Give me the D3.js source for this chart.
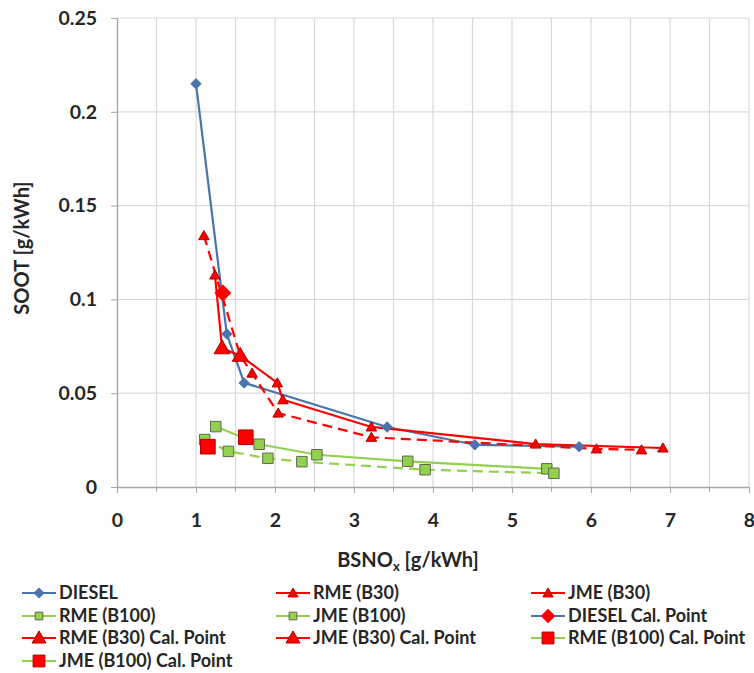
<!DOCTYPE html>
<html>
<head>
<meta charset="utf-8">
<script src="https://cdn.jsdelivr.net/npm/d3@7"></script>
<style>
  html, body { margin: 0; padding: 0; background: #fff; }
  svg { display: block; }
  text { font-family: Lato, "Open Sans", sans-serif; font-weight: bold; fill: #262626; }
</style>
</head>
<body>
<svg id="chart" width="754" height="673"></svg>
<script>
// ---- data (BSNOx [g/kWh], SOOT [g/kWh]) ----
const dieselX = [1.00, 1.39, 1.61, 3.42, 4.53, 5.85];
const dieselY = [0.215, 0.0815, 0.0555, 0.032, 0.0225, 0.0215];
const rmeB30X = [1.24, 1.33, 1.56, 2.03, 2.10, 3.22, 5.30, 6.91];
const rmeB30Y = [0.113, 0.074, 0.070, 0.0555, 0.0465, 0.032, 0.0229, 0.0208];
const jmeB30X = [1.10, 1.56, 1.71, 2.04, 3.22, 6.07, 6.64];
const jmeB30Y = [0.134, 0.070, 0.0607, 0.0394, 0.0265, 0.0203, 0.0198];
const rmeB100X = [1.25, 1.80, 2.53, 3.68, 5.44];
const rmeB100Y = [0.0322, 0.0228, 0.0172, 0.0137, 0.0097];
const jmeB100X = [1.11, 1.41, 1.91, 2.34, 3.90, 5.53];
const jmeB100Y = [0.0253, 0.019, 0.0153, 0.0135, 0.0092, 0.0073];
const dieselCalX = [1.34], dieselCalY = [0.1034];
const rmeB30CalX = [1.33], rmeB30CalY = [0.074];
const jmeB30CalX = [1.56], jmeB30CalY = [0.070];
const rmeB100CalX = [1.63], rmeB100CalY = [0.0265];
const jmeB100CalX = [1.15], jmeB100CalY = [0.0215];

const xTicks = [0, 1, 2, 3, 4, 5, 6, 7, 8];
const yTicks = [0, 0.05, 0.1, 0.15, 0.2, 0.25];
const xTitle = "BSNO";
const yTitle = "SOOT [g/kWh]";

const BLUE = "#4A74AC", RED = "#FF0000", GREEN = "#92D050";

const series = [
  {name: "DIESEL", x: dieselX, y: dieselY, line: BLUE, dash: null, shape: "diamond", size: 50, fill: BLUE, stroke: BLUE},
  {name: "RME (B30)", x: rmeB30X, y: rmeB30Y, line: RED, dash: null, shape: "triangle", size: 48, fill: RED, stroke: "#B00000"},
  {name: "JME (B30)", x: jmeB30X, y: jmeB30Y, line: RED, dash: "10,6", shape: "triangle", size: 48, fill: RED, stroke: "#B00000"},
  {name: "RME (B100)", x: rmeB100X, y: rmeB100Y, line: GREEN, dash: null, shape: "square", size: 110, fill: GREEN, stroke: "#5E6B4A"},
  {name: "JME (B100)", x: jmeB100X, y: jmeB100Y, line: GREEN, dash: "10,6", shape: "square", size: 110, fill: GREEN, stroke: "#5E6B4A"},
  {name: "DIESEL Cal. Point", x: dieselCalX, y: dieselCalY, line: BLUE, dash: null, shape: "diamond", size: 120, fill: RED, stroke: RED},
  {name: "RME (B30) Cal. Point", x: rmeB30CalX, y: rmeB30CalY, line: RED, dash: null, shape: "triangle", size: 110, fill: RED, stroke: "#B00000"},
  {name: "JME (B30) Cal. Point", x: jmeB30CalX, y: jmeB30CalY, line: RED, dash: null, shape: "triangle", size: 110, fill: RED, stroke: "#B00000"},
  {name: "RME (B100) Cal. Point", x: rmeB100CalX, y: rmeB100CalY, line: GREEN, dash: null, shape: "square", size: 215, fill: RED, stroke: "#B00000"},
  {name: "JME (B100) Cal. Point", x: jmeB100CalX, y: jmeB100CalY, line: GREEN, dash: null, shape: "square", size: 215, fill: RED, stroke: "#B00000"}
];

const svg = d3.select("#chart");
const pLeft = 117, pRight = 749, pTop = 18, pBottom = 487;
const x = d3.scaleLinear().domain([0, 8]).range([pLeft, pRight]);
const y = d3.scaleLinear().domain([0, 0.25]).range([pBottom, pTop]);

// gridlines
const grid = svg.append("g");
grid.selectAll("line.v").data(d3.range(0.5, 8.01, 0.5)).join("line")
  .attr("x1", d => x(d)).attr("x2", d => x(d)).attr("y1", pTop).attr("y2", pBottom)
  .attr("stroke", "#D9D9D9").attr("stroke-width", 1.2);
grid.selectAll("line.h").data(yTicks.slice(1)).join("line")
  .attr("x1", pLeft).attr("x2", pRight).attr("y1", d => y(d)).attr("y2", d => y(d))
  .attr("stroke", "#D9D9D9").attr("stroke-width", 1.2);

// axes
const fmt = d => d === 0 ? "0" : String(+d.toFixed(2));
const yAxis = svg.append("g").attr("transform", `translate(${pLeft},0)`)
  .call(d3.axisLeft(y).tickValues(yTicks).tickFormat(fmt).tickSizeInner(6).tickSizeOuter(0).tickPadding(14));
const xAxis = svg.append("g").attr("transform", `translate(0,${pBottom})`)
  .call(d3.axisBottom(x).tickValues(xTicks).tickFormat(d3.format("d")).tickSizeInner(6).tickSizeOuter(0).tickPadding(20));
// minor x ticks
xAxis.selectAll("line.minor").data(d3.range(0.5, 8, 1)).join("line")
  .attr("class", "minor").attr("x1", d => x(d)).attr("x2", d => x(d)).attr("y1", 0).attr("y2", 5)
  .attr("stroke", "#A6A6A6");
[yAxis, xAxis].forEach(g => {
  g.select(".domain").attr("stroke", "#A6A6A6").attr("stroke-width", 1.3);
  g.selectAll(".tick line").attr("stroke", "#A6A6A6");
  g.selectAll(".tick text").style("font-family", "Lato, sans-serif").style("font-weight", "bold")
    .style("font-size", "19.5px").attr("fill", "#262626");
});

// axis titles
const xt = svg.append("text").attr("x", 408).attr("y", 567).attr("text-anchor", "middle").style("font-size", "20px");
xt.append("tspan").text(xTitle);
xt.append("tspan").text("x").attr("dy", 4).style("font-size", "13px");
xt.append("tspan").text(" [g/kWh]").attr("dy", -4);
svg.append("text").attr("transform", "translate(29,248) rotate(-90)").attr("text-anchor", "middle")
  .style("font-size", "20px").text(yTitle);

// symbols
function symPath(shape, size) {
  if (shape === "diamond") return d3.symbol(d3.symbolSquare, size)();
  if (shape === "triangle") return d3.symbol(d3.symbolTriangle, size)();
  return d3.symbol(d3.symbolSquare, size)();
}
function symTransform(shape, px, py) {
  if (shape === "diamond") return `translate(${px},${py}) rotate(45)`;
  if (shape === "triangle") return `translate(${px},${py + 1})`;
  return `translate(${px},${py})`;
}

const plot = svg.append("g");
const lineGen = d3.line().x(d => x(d[0])).y(d => y(d[1]));
// lines first
series.forEach(s => {
  const pts = s.x.map((v, i) => [v, s.y[i]]);
  if (pts.length > 1) {
    plot.append("path").datum(pts).attr("d", lineGen).attr("fill", "none")
      .attr("stroke", s.line).attr("stroke-width", 2.2)
      .attr("stroke-dasharray", s.dash).attr("stroke-linejoin", "round");
  }
});
// markers
series.forEach(s => {
  const pts = s.x.map((v, i) => [v, s.y[i]]);
  plot.selectAll(null).data(pts).join("path")
    .attr("d", symPath(s.shape, s.size))
    .attr("transform", d => symTransform(s.shape, x(d[0]), y(d[1])))
    .attr("fill", s.fill).attr("stroke", s.stroke).attr("stroke-width", 1);
});

// legend
const colX = [22, 276, 531];
const rowY = [593, 616, 638, 661];
const leg = svg.append("g");
series.forEach((s, i) => {
  const cx = colX[i % 3], cy = rowY[Math.floor(i / 3)];
  const g = leg.append("g");
  g.append("line").attr("x1", cx).attr("x2", cx + 34).attr("y1", cy).attr("y2", cy)
    .attr("stroke", s.line).attr("stroke-width", 2.2);
  const lsize = s.shape === "square" ? (s.size > 150 ? 140 : 60) : (s.size > 100 ? 85 : 45);
  g.append("path").attr("d", symPath(s.shape, lsize))
    .attr("transform", symTransform(s.shape, cx + 17, cy))
    .attr("fill", s.fill).attr("stroke", s.stroke).attr("stroke-width", 1);
  g.append("text").attr("x", cx + 37).attr("y", cy + 6).style("font-size", "18px").text(s.name);
});
</script>
</body>
</html>
